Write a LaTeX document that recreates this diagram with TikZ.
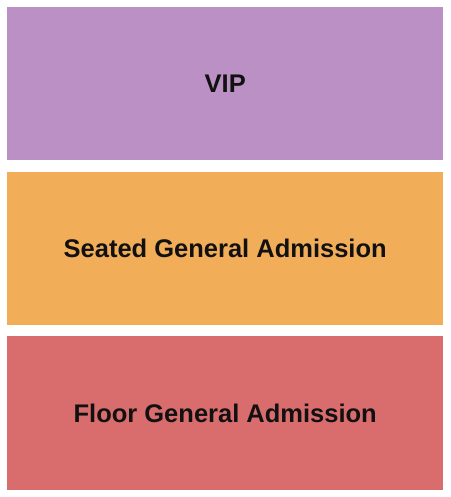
\documentclass[tikz,border=0pt]{standalone}
\usepackage{fontspec}
\setmainfont{Liberation Sans}
\definecolor{vipc}{HTML}{BB90C4}
\definecolor{seatc}{HTML}{F2AD58}
\definecolor{floorc}{HTML}{D96C6C}
\definecolor{txtc}{HTML}{111111}
\begin{document}
\begin{tikzpicture}[x=1pt,y=-1pt,
  sect/.style={draw=none,minimum width=436pt,minimum height=153pt,inner sep=0pt,anchor=north west,
    font=\fontsize{25.5}{30}\selectfont\bfseries,text=txtc}]
\useasboundingbox[fill=white] (0,0) rectangle (450,497);
\node[sect,fill=vipc] (vip) at (7,7) {VIP};
\node[sect,fill=seatc] (seat) at (7,172) {Seated General Admission};
\node[sect,fill=floorc,minimum height=154pt] (floor) at (7,336) {Floor General Admission};
\end{tikzpicture}
\end{document}
